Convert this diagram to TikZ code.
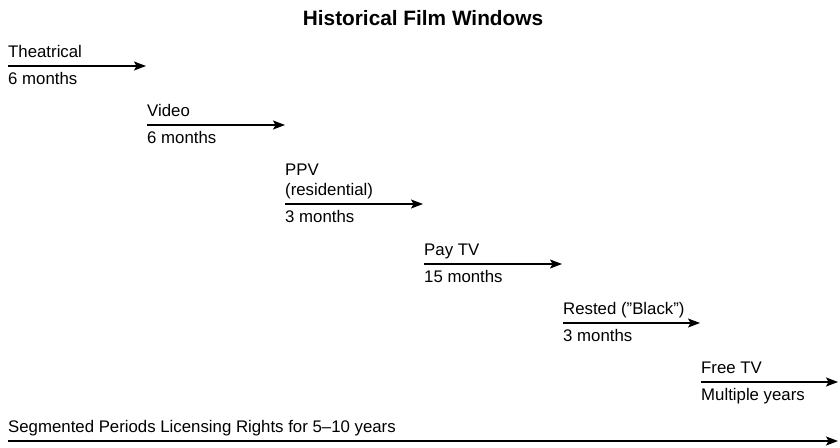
\documentclass[tikz,border=0pt]{standalone}
\usepackage{fontspec}
% plain font mapping so that " stays a straight quote
\setmainfont{Liberation Sans}[Ligatures=ResetAll]
\usetikzlibrary{arrows.meta}
\begin{document}
\begin{tikzpicture}[x=1pt,y=-1pt,
  lbl/.style={anchor=base west, inner sep=0pt, font=\fontsize{16.8}{20}\selectfont},
  ttl/.style={anchor=base, inner sep=0pt, font=\fontsize{20.8}{24}\selectfont\bfseries},
  arr/.style={line width=1.4pt, -{Stealth[length=12pt,width=9pt,inset=2.5pt]}}]
\useasboundingbox (0,0) rectangle (840,447);

\node[ttl] (title) at (423,25) {Historical Film Windows};

% window stages: start, end, arrow height
\coordinate (s1) at (8,66);    \coordinate (e1) at (146,66);
\coordinate (s2) at (147,125); \coordinate (e2) at (285,125);
\coordinate (s3) at (285,204); \coordinate (e3) at (423,204);
\coordinate (s4) at (424,264); \coordinate (e4) at (562,264);
\coordinate (s5) at (563,323); \coordinate (e5) at (700,323);
\coordinate (s6) at (701,382); \coordinate (e6) at (838,382);
\coordinate (s7) at (8,441);   \coordinate (e7) at (838,441);

\foreach \i in {1,...,7} \draw[arr] (s\i) -- (e\i);

% labels: name above the arrow, duration below it
\node[lbl] (t1) at ([yshift=9pt]s1) {Theatrical};
\node[lbl] (d1) at ([yshift=-18.5pt]s1) {6 months};
\node[lbl] (t2) at ([yshift=9pt]s2) {Video};
\node[lbl] (d2) at ([yshift=-18.5pt]s2) {6 months};
\node[lbl] (t3a) at ([yshift=29pt]s3) {PPV};
\node[lbl] (t3b) at ([yshift=9pt]s3) {(residential)};
\node[lbl] (d3) at ([yshift=-18.5pt]s3) {3 months};
\node[lbl] (t4) at ([yshift=9pt]s4) {Pay TV};
\node[lbl] (d4) at ([yshift=-18.5pt]s4) {15 months};
\node[lbl] (t5) at ([yshift=9pt]s5) {Rested ("Black")};
\node[lbl] (d5) at ([yshift=-18.5pt]s5) {3 months};
\node[lbl] (t6) at ([yshift=9pt]s6) {Free TV};
\node[lbl] (d6) at ([yshift=-18.5pt]s6) {Multiple years};
\node[lbl] (t7) at ([yshift=9pt]s7) {Segmented Periods Licensing Rights for 5–10 years};
\end{tikzpicture}
\end{document}
